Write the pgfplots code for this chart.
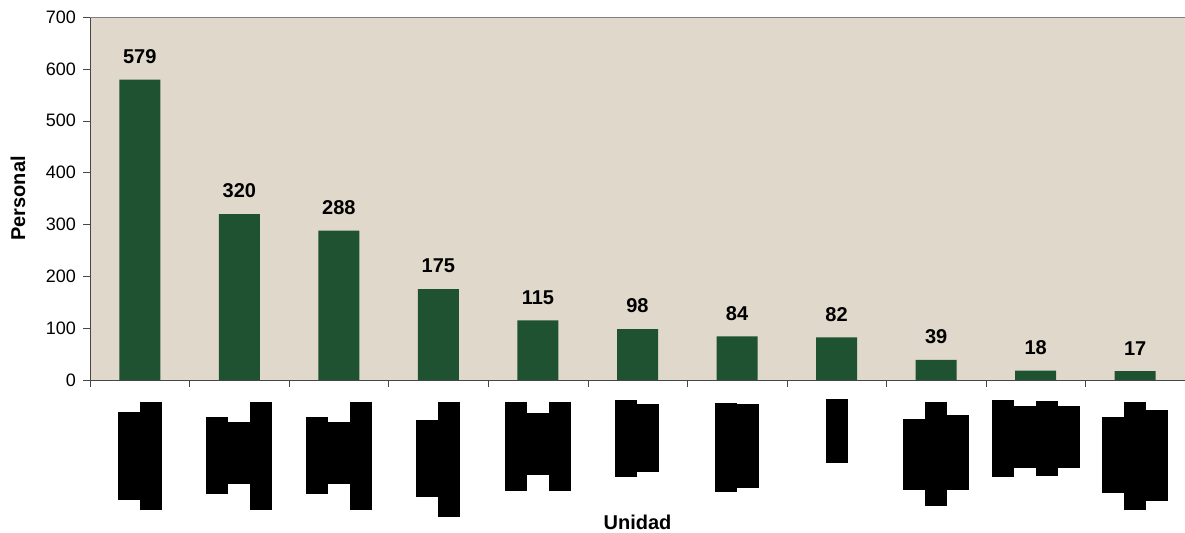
\documentclass[border=0pt]{standalone}
\usepackage{pgfplots}
\pgfplotsset{compat=1.18}
\usepackage{fontspec}
\setmainfont{Liberation Sans}
\definecolor{fondo}{RGB}{224,217,203}
\definecolor{barra}{RGB}{30,82,48}
\definecolor{eje}{RGB}{70,70,70}
% redacted category names: black blocks, sizes in reference pixels (width, bottom, top)
\newcommand{\R}[3]{\rule[\dimexpr(520pt-#2pt)/2\relax]{\dimexpr#1pt/2\relax}{\dimexpr(#2pt-#3pt)/2\relax}}
\newcommand{\T}{\rule{0pt}{61pt}}
\begin{document}
\begin{tikzpicture}
\begin{axis}[
    at={(0,0)}, anchor=south west,
    width=547.5pt, height=181.5pt, scale only axis,
    xmin=-0.5, xmax=10.5,
    ymin=0, ymax=700,
    ytick={0,100,...,700},
    xtick={0,...,10},
    minor xtick={-0.5,0.5,...,10.5},
    major x tick style={draw=none},
    xticklabels={
        {\T\R{22}{500}{412}\R{22}{510}{402}},
        {\T\R{22}{494}{417}\R{22}{484}{422}\R{22}{510}{402}},
        {\T\R{22}{494}{417}\R{22}{484}{422}\R{22}{510}{402}},
        {\T\R{22}{497}{420}\R{22}{517}{402}},
        {\T\R{22}{491}{402}\R{22}{475}{413}\R{22}{491}{402}},
        {\T\R{22}{477}{400}\R{22}{472}{404}},
        {\T\R{22}{492}{403}\R{22}{488}{404}},
        {\T\R{22}{463}{399}},
        {\T\R{22}{490}{419}\R{22}{506}{402}\R{22}{490}{415}},
        {\T\R{22}{477}{400}\R{22}{468}{406}\R{22}{476}{401}\R{22}{468}{406}},
        {\T\R{22}{493}{417}\R{22}{510}{402}\R{22}{501}{410}}
    },
    xticklabel style={anchor=north, inner sep=0pt, yshift=-5.5pt},
    axis x line=bottom, axis y line=left,
    axis line style={-, eje},
    tick align=outside,
    major tick length=3.5pt, minor tick length=3.5pt,
    tick style={eje},
    /pgf/number format/assume math mode=true,
    yticklabel style={font=\fontsize{9}{10}\selectfont},
    axis background/.style={fill=fondo},
    ylabel={Personal}, xlabel={Unidad},
    label style={font=\fontsize{10}{12}\selectfont\bfseries},
    ylabel style={at={(axis description cs:-0.0658,0.5)}, anchor=center},
    xlabel style={at={(axis description cs:0.5,-0.391)}, anchor=center},
    ybar, bar width=20.5pt, bar shift=0pt,
    nodes near coords,
    nodes near coords style={font=\fontsize{10}{12}\selectfont\bfseries, yshift=4.5pt},
]
\addplot[draw=none, fill=barra] coordinates {
    (0,579) (1,320) (2,288) (3,175) (4,115) (5,98)
    (6,84) (7,82) (8,39) (9,18) (10,17)
};
\draw[gray] (rel axis cs:0,1) -- (rel axis cs:1,1);
\end{axis}
\pgfresetboundingbox
\path[use as bounding box] (-45pt,-76.5pt) rectangle (547.5pt,190pt);
\end{tikzpicture}
\end{document}
